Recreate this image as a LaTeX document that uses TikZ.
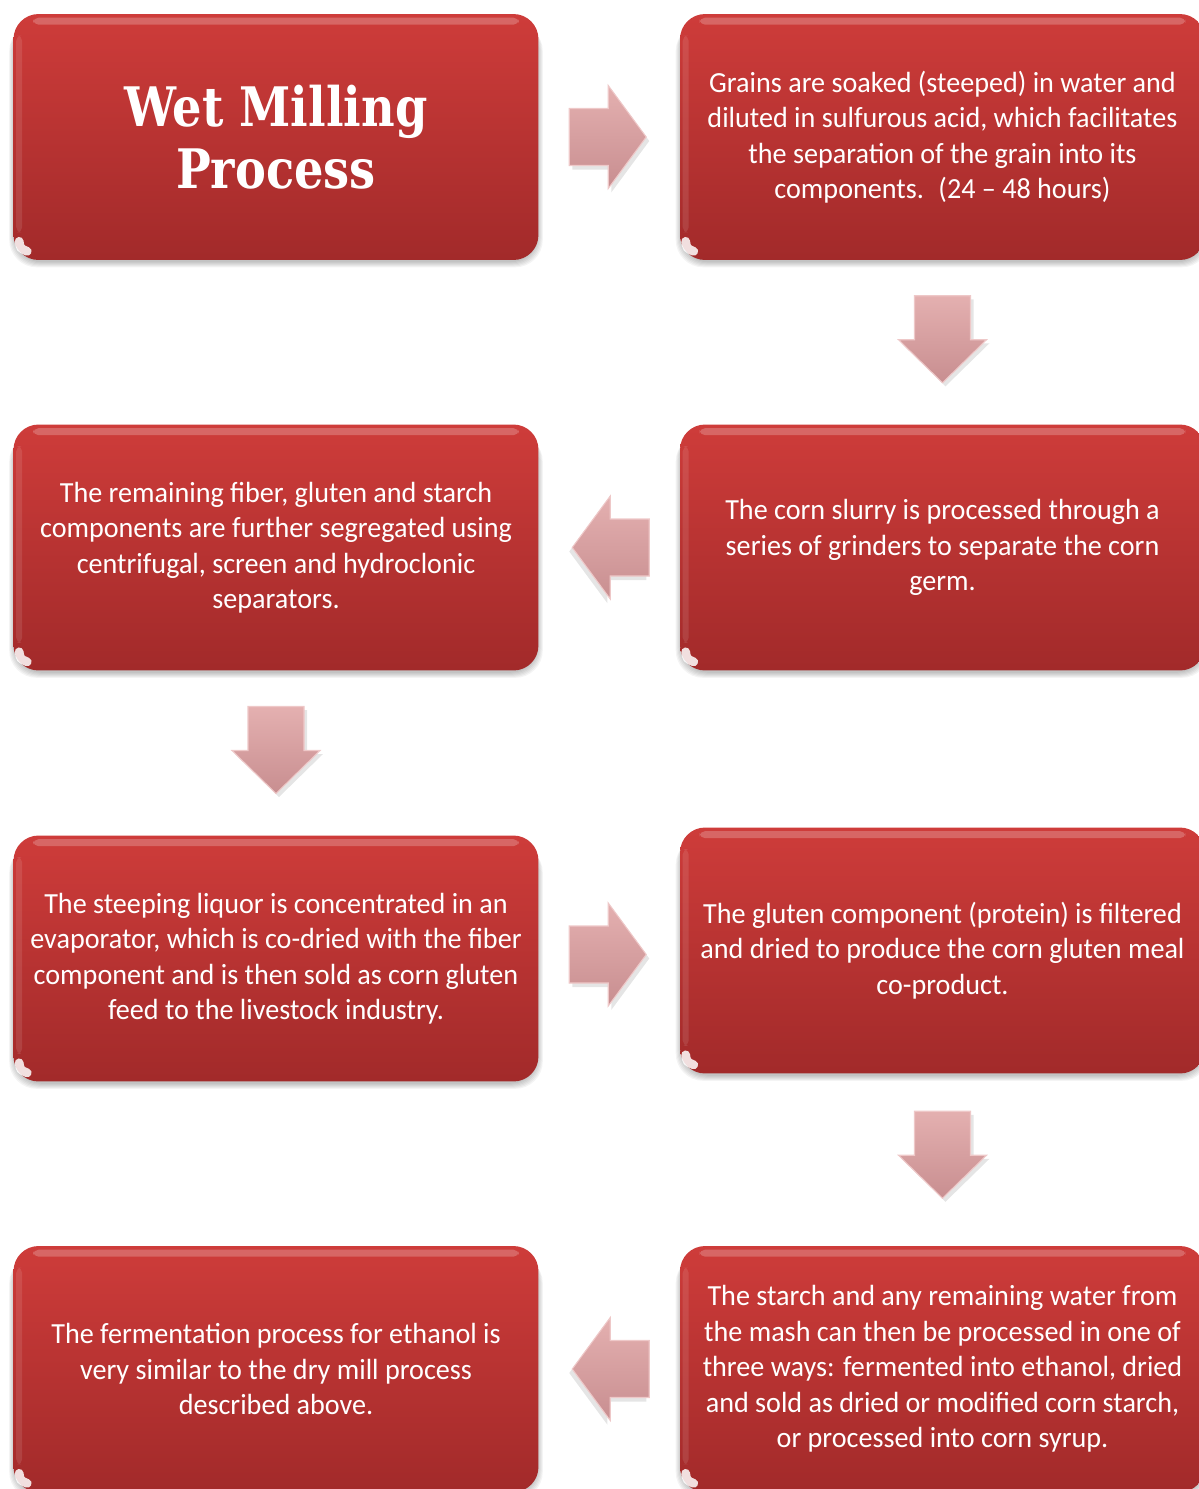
\documentclass[tikz,border=0pt]{standalone}
\usepackage{fontspec}
\setmainfont{Carlito}[FakeStretch=0.965]
\newfontfamily\titlefont{DejaVu Serif}[FakeStretch=0.85]
\usetikzlibrary{calc,backgrounds}
\definecolor{boxtop}{RGB}{206,60,58}
\definecolor{boxbot}{RGB}{162,42,42}
\definecolor{arrtop}{RGB}{228,176,176}
\definecolor{arrbot}{RGB}{200,142,144}
\definecolor{arredge}{RGB}{238,200,200}
\tikzset{
  stepbox/.style={rectangle, rounded corners=0.5cm, minimum width=10.5cm,
    minimum height=4.92cm, top color=boxtop, bottom color=boxbot,
    text=white, align=center, inner sep=0pt,
    font=\fontsize{16.6}{20.2}\selectfont},
  titletext/.style={font=\titlefont\bfseries\fontsize{31}{35.2}\selectfont},
  arrowbody/.style={top color=arrtop, bottom color=arrbot, draw=arredge, line width=0.6pt},
  arrowshadow/.style={fill=black, opacity=0.10},
  rarrow/.pic={
    \fill[arrowshadow] (-35,-24.5) -- (4,-24.5) -- (4,-47.5) -- (42,4) -- (4,55.5) -- (4,32.5) -- (-35,32.5) -- cycle;
    \path[arrowbody] (-38,-28.5) -- (1,-28.5) -- (1,-51.5) -- (39,0) -- (1,51.5) -- (1,28.5) -- (-38,28.5) -- cycle;
  },
  darrow/.pic={
    \fill[arrowshadow] (-25,-40) -- (31,-40) -- (31,4) -- (47,4) -- (3,47) -- (-41,4) -- (-25,4) -- cycle;
    \path[arrowbody] (-28,-43.5) -- (28,-43.5) -- (28,0.5) -- (44,0.5) -- (0,43.5) -- (-44,0.5) -- (-28,0.5) -- cycle;
  }
}
\begin{document}
\begin{tikzpicture}[x=0.02cm, y=-0.02cm]
\useasboundingbox (0,0) rectangle (1199,1489);
\clip (0,0) rectangle (1199,1489);

% process steps
\node[stepbox, titletext] (title) at (276,137) {Wet Milling\\Process};
\node[stepbox] (steep) at (942.5,137) {Grains are soaked (steeped) in water and\\diluted in sulfurous acid, which facilitates\\the separation of the grain into its\\components.\enspace(24 -- 48 hours)};
\node[stepbox] (grind) at (942.5,547.5) {The corn slurry is processed through a\\series of grinders to separate the corn\\germ.};
\node[stepbox] (sep) at (276,547.5) {The remaining fiber, gluten and starch\\components are further segregated using\\centrifugal, screen and hydroclonic\\separators.};
\node[stepbox] (liquor) at (276,958.5) {The steeping liquor is concentrated in an\\evaporator, which is co-dried with the fiber\\component and is then sold as corn gluten\\feed to the livestock industry.};
\node[stepbox] (gluten) at (942.5,950.5) {The gluten component (protein) is filtered\\and dried to produce the corn gluten meal\\co-product.};
\node[stepbox] (starch) at (942.5,1369) {The starch and any remaining water from\\the mash can then be processed in one of\\three ways: fermented into ethanol, dried\\and sold as dried or modified corn starch,\\or processed into corn syrup.};
\node[stepbox] (ferm) at (276,1369) {The fermentation process for ethanol is\\very similar to the dry mill process\\described above.};

% soft shadows under the boxes
\begin{pgfonlayer}{background}
\foreach \n in {title,steep,grind,sep,liquor,gluten,starch,ferm}{
  \foreach \k in {1,...,6}{
    \fill[black, opacity=0.045, rounded corners=0.55cm]
      ($(\n.north west)+(2-\k,4+\k)$) rectangle ($(\n.south east)+(\k-2,1+\k)$);
  }
}
\end{pgfonlayer}

% glossy highlights on the boxes
\foreach \n in {title,steep,grind,sep,liquor,gluten,starch,ferm}{
  \fill[white, opacity=0.22, rounded corners=3pt]
    ($(\n.north west)+(20,4)$) rectangle ($(\n.north east)+(-20,11)$);
  \fill[white, opacity=0.10, rounded corners=3pt]
    ($(\n.north west)+(3,22)$) rectangle ($(\n.south west)+(9,-28)$);
  \draw[white, opacity=0.85, line width=5pt, line cap=round]
    ($(\n.south west)+(6,-19)$) .. controls ($(\n.south west)+(7,-12)$) .. ($(\n.south west)+(14,-9)$);
}

% block arrows between the steps
\pic at ($(title.east)!0.5!(steep.west)+(-2,0)$) {rarrow};
\pic at ($(steep.south)!0.5!(grind.north)+(0,-3)$) {darrow};
\pic[xscale=-1] at ($(grind.west)!0.5!(sep.east)+(2,0)$) {rarrow};
\pic at ($(sep.south)!0.5!(liquor.north)+(0,-3)$) {darrow};
\pic at ($(liquor.east)!0.5!(gluten.west)+(-2,0)$) {rarrow};
\pic at ($(gluten.south)!0.5!(starch.north)+(0,-5)$) {darrow};
\pic[xscale=-1] at ($(starch.west)!0.5!(ferm.east)+(2,0)$) {rarrow};
\end{tikzpicture}
\end{document}
